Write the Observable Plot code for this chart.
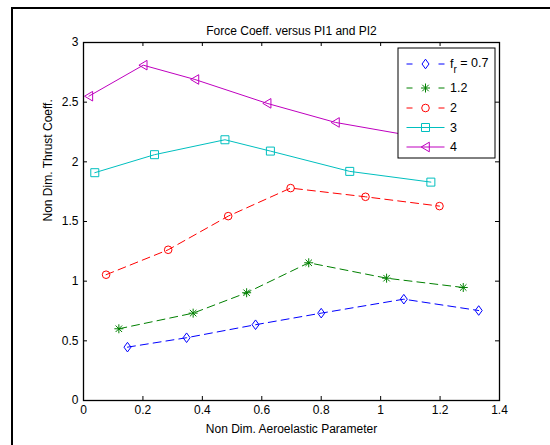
<!DOCTYPE html>
<html><head><meta charset="utf-8">
<script src="https://cdn.jsdelivr.net/npm/d3@7"></script>
<script src="https://cdn.jsdelivr.net/npm/@observablehq/plot@0.6"></script>
<style>
body{margin:0;background:#fff;}
#chart{position:relative;width:550px;height:445px;overflow:hidden;}
#chart svg{font-family:"Liberation Sans",Arial,Helvetica,sans-serif;}
</style></head><body><div id="chart"></div>
<script>
const titleText = "Force Coeff. versus PI1 and PI2";
const xLabel = "Non Dim. Aeroelastic Parameter";
const yLabel = "Non Dim. Thrust Coeff.";
const seriesNames = ["0.7", "1.2", "2", "3", "4"];
const seriesColors = ["#0000ff", "#008000", "#ff0000", "#00bfbf", "#bf00bf"];
const seriesDashed = [true, true, true, false, false];

const x07 = [0.148, 0.347, 0.579, 0.800, 1.078, 1.330];
const y07 = [0.447, 0.526, 0.635, 0.732, 0.849, 0.754];
const x12 = [0.119, 0.369, 0.549, 0.758, 1.020, 1.278];
const y12 = [0.601, 0.732, 0.903, 1.154, 1.025, 0.947];
const x2  = [0.076, 0.285, 0.487, 0.697, 0.949, 1.198];
const y2  = [1.054, 1.263, 1.545, 1.780, 1.707, 1.629];
const x3  = [0.038, 0.239, 0.476, 0.629, 0.896, 1.169];
const y3  = [1.909, 2.060, 2.185, 2.090, 1.920, 1.830];
const x4  = [0.018, 0.201, 0.375, 0.618, 0.848, 1.100];
const y4  = [2.550, 2.810, 2.690, 2.490, 2.330, 2.220];

const xTicks = [0, 0.2, 0.4, 0.6, 0.8, 1, 1.2, 1.4];
const yTicks = [0, 0.5, 1, 1.5, 2, 2.5, 3];

const xs = [x07, x12, x2, x3, x4];
const ys = [y07, y12, y2, y3, y4];

// MATLAB-like marker shapes
const symDiamond = {draw(c){c.moveTo(0,-4.8);c.lineTo(3.5,0);c.lineTo(0,4.8);c.lineTo(-3.5,0);c.closePath();}};
const symStar = {draw(c){const r=4.5,d=r*0.72;c.moveTo(0,-r);c.lineTo(0,r);c.moveTo(-r,0);c.lineTo(r,0);c.moveTo(-d,-d);c.lineTo(d,d);c.moveTo(-d,d);c.lineTo(d,-d);}};
const symCircle = {draw(c){c.moveTo(3.8,0);c.arc(0,0,3.8,0,2*Math.PI);}};
const symSquare = {draw(c){c.rect(-4,-4,8,8);}};
const symTriLeft = {draw(c){c.moveTo(-4.3,0);c.lineTo(3.8,-4.8);c.lineTo(3.8,4.8);c.closePath();}};
const symbols = [symDiamond, symStar, symCircle, symSquare, symTriLeft];

const rows = seriesNames.map((s, i) => xs[i].map((x, j) => ({s, x, y: ys[i][j]})));

const lineMarks = rows.map((r, i) => Plot.line(r, {x: "x", y: "y", stroke: seriesColors[i], strokeWidth: 1, strokeDasharray: seriesDashed[i] ? "8,5" : null}));
const dotMarks = rows.map((r, i) => Plot.dot(r, {x: "x", y: "y", symbol: symbols[i], stroke: seriesColors[i], fill: "none", strokeWidth: 1}));

const W = 550, H = 445, mL = 83, mR = 51, mT = 42, mB = 45;
const frameW = W - mL - mR, frameH = H - mT - mB;

const svg = Plot.plot({
  width: W, height: H,
  marginLeft: mL, marginRight: mR, marginTop: mT, marginBottom: mB,
  style: {fontSize: "12px", fontFamily: "'Liberation Sans', Arial, Helvetica, sans-serif", background: "white", color: "black"},
  x: {domain: [0, 1.4]},
  y: {domain: [0, 3]},
  marks: [
    ...lineMarks,
    ...dotMarks,
    Plot.tickX(xTicks, {x: d => d, insetTop: frameH - 4, stroke: "black"}),
    Plot.tickX(xTicks, {x: d => d, insetBottom: frameH - 4, stroke: "black"}),
    Plot.tickY(yTicks, {y: d => d, insetRight: frameW - 4, stroke: "black"}),
    Plot.tickY(yTicks, {y: d => d, insetLeft: frameW - 4, stroke: "black"}),
    Plot.frame({stroke: "black", strokeWidth: 1.3}),
    Plot.axisX(xTicks, {tickSize: 0, tickPadding: 5, tickFormat: d3.format("~g"), label: null, fontSize: 12}),
    Plot.axisY(yTicks, {tickSize: 0, tickPadding: 5, tickFormat: d3.format("~g"), label: null, fontSize: 12}),
    Plot.text([titleText], {frameAnchor: "top", dy: -16, fontSize: 12}),
    Plot.text([xLabel], {frameAnchor: "bottom", dy: 32, fontSize: 12}),
    Plot.text([yLabel], {frameAnchor: "left", dx: -35, rotate: -90, fontSize: 12})
  ]
});

const root = d3.select(svg);
// outer figure border
root.append("path").attr("d", "M12,450V8H560").attr("fill", "none").attr("stroke", "black").attr("stroke-width", 2);

// legend
const lg = root.append("g").attr("font-size", 12.5).attr("text-anchor", "start")
  .attr("font-family", "'Liberation Sans', Arial, Helvetica, sans-serif");
lg.append("rect").attr("x", 398).attr("y", 48).attr("width", 97).attr("height", 110).attr("fill", "white").attr("stroke", "black").attr("stroke-width", 1);
const rowY = [64, 88, 108, 127.5, 147];
seriesNames.forEach((s, i) => {
  const y = rowY[i];
  lg.append("line").attr("x1", 406.5).attr("x2", 444.5).attr("y1", y).attr("y2", y)
    .attr("stroke", seriesColors[i]).attr("stroke-width", 1)
    .attr("stroke-dasharray", seriesDashed[i] ? "6,26,6" : null);
  const p = d3.path(); symbols[i].draw(p);
  lg.append("path").attr("d", p.toString()).attr("transform", `translate(425.5,${y})`)
    .attr("fill", "none").attr("stroke", seriesColors[i]).attr("stroke-width", 1);
  const t = lg.append("text").attr("x", 450).attr("y", y).attr("dy", "0.35em").attr("fill", "black").attr("text-anchor", "start");
  if (i === 0) {
    t.append("tspan").text("f");
    t.append("tspan").attr("dy", "0.45em").attr("font-size", 10).text("r");
    t.append("tspan").attr("dy", "-0.45em").text(" = " + s);
  } else {
    t.text(s);
  }
});

document.getElementById("chart").appendChild(svg);
</script></body></html>
